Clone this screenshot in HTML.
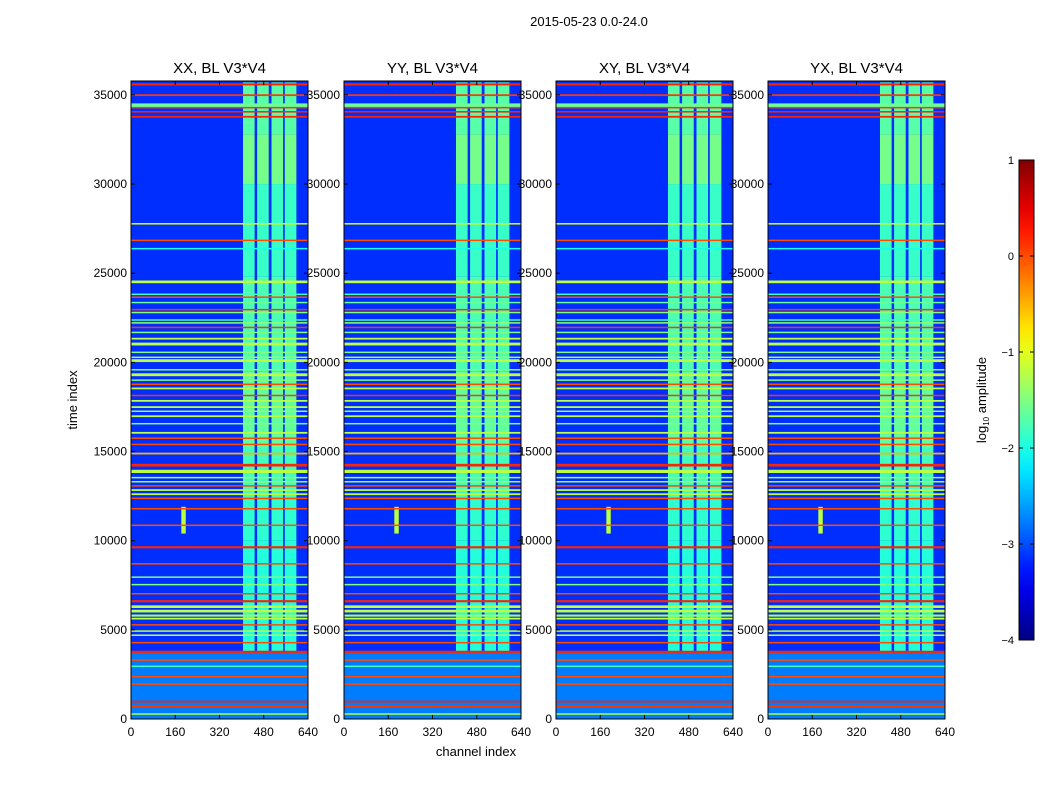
<!DOCTYPE html>
<html><head><meta charset="utf-8"><style>
html,body{margin:0;padding:0;background:#fff;}
svg text{font-family:"Liberation Sans",sans-serif;fill:#000;}
</style></head><body>
<svg id="fig" width="1050" height="800" xmlns="http://www.w3.org/2000/svg">
<text x="589" y="26" font-size="13" text-anchor="middle">2015-05-23 0.0-24.0</text>
<text transform="translate(77,400) rotate(-90)" font-size="13" text-anchor="middle">time index</text>
<text x="476" y="756" font-size="13" text-anchor="middle">channel index</text>
<g id="panels"></g>
<g id="cbar"></g>
<text transform="translate(986,400) rotate(-90)" font-size="13" text-anchor="middle">log<tspan font-size="8" dy="3">10</tspan><tspan dy="-3"> amplitude</tspan></text>
</svg>
<script>
// ---- data ----
const panelTitles = ["XX, BL V3*V4","YY, BL V3*V4","XY, BL V3*V4","YX, BL V3*V4"];
const xTicks = [0,160,320,480,640];
const yTicks = [0,5000,10000,15000,20000,25000,30000,35000];
const cbTicks = [1,0,-1,-2,-3,-4];
const backgroundLevel = -3.15;
// RFI rows: time index, log amplitude, thickness (time units)
const rowTimes = [35590,34985,34400,34285,34052,33774,27772,26842,26377,24516,23818,23656,23354,22958,22795,22377,22214,21958,21679,21330,21028,20563,20283,20097,19585,19306,19004,18771,18538,18143,17841,17492,17259,16980,16561,16049,15747,15398,14886,14235,13886,13537,13305,13072,12840,12607,12375,11793,10863,9630,8699,7955,7536,7025,6606,6300,6050,5800,5629,5280,4931,4698,4280,3768,3303,2954,2373,1954,977,698,279];
const rowLevels = [0.2,0.1,-1.6,0.1,0.2,0.2,-1.0,0.0,-2.0,-1.2,-1.8,0.0,-1.6,0.1,-1.5,-1.8,-1.4,0.1,-1.5,-1.2,-1.2,-1.5,-1.3,-1.2,-1.5,-1.2,-1.5,0.0,-1.2,0.1,-1.2,-1.2,-1.4,-1.2,-1.5,-1.2,0.0,0.0,-0.5,0.2,-1.2,-1.3,-1.3,0.0,-1.2,-1.2,0.0,0.0,0.0,0.2,0.0,-1.5,-1.5,0.0,0.2,-1.2,-1.2,-1.3,-1.2,0.0,-1.2,-1.2,0.0,0.2,0.0,-1.8,0.0,0.0,0.2,0.1,-1.3];
const rowWidths = [120,100,250,80,80,100,40,40,40,150,40,60,60,60,60,60,60,60,60,100,160,60,60,160,60,160,60,60,100,80,100,100,60,100,60,100,60,80,100,150,180,80,80,80,100,100,80,60,60,120,60,60,60,60,120,150,150,120,100,60,80,80,60,120,60,60,60,60,100,80,80];
// bright channel columns (start, end)
const colStart = [405,456,508,556];
const colEnd = [447,498,550,598];
// column segments: time start, time end, level
const segT0 = [3800,10000,12300,15200,19500,24800,30000,32800];
const segT1 = [10000,12300,15200,19500,24800,30000,32800,35700];
const segLevel = [-1.95,-1.9,-1.8,-1.65,-1.75,-1.85,-1.55,-1.7];
const lowRegionLevel = -2.6; // 0..3800 time
// transient blob
const blobChannel = 190, blobT0 = 10400, blobT1 = 11900, blobLevel = -1.2;

// ---- helpers ----
function jet(v){
  const r=Math.min(1,Math.max(0,Math.min(4*v-1.5,-4*v+4.5)));
  const g=Math.min(1,Math.max(0,Math.min(4*v-0.5,-4*v+3.5)));
  const b=Math.min(1,Math.max(0,Math.min(4*v+0.5,-4*v+2.5)));
  return `rgb(${Math.round(r*255)},${Math.round(g*255)},${Math.round(b*255)})`;
}
function col(level){return jet((level+4)/5);}
const NS="http://www.w3.org/2000/svg";
function mk(tag,attrs,parent){const e=document.createElementNS(NS,tag);for(const k in attrs)e.setAttribute(k,attrs[k]);parent.appendChild(e);return e;}
const panelX=[131,344,556,768], pw=177, py0=81, py1=719, tMax=35780, chMax=640;
const panels=document.getElementById('panels');
panelX.forEach((px,pi)=>{
  const g=mk('g',{},panels);
  
  
  const X=c=>px+c/chMax*pw;
  const Y=t=>py1-t/tMax*(py1-py0);
  const cp=mk('clipPath',{id:'cp'+pi},g);
  mk('rect',{x:px,y:py0,width:pw,height:py1-py0},cp);
  const inner=mk('g',{'clip-path':'url(#cp'+pi+')'},g);
  mk('rect',{x:px,y:py0,width:pw,height:py1-py0,fill:col(backgroundLevel)},inner);
  mk('rect',{x:px,y:Y(3800),width:pw,height:Y(0)-Y(3800),fill:col(lowRegionLevel),opacity:0.7},inner);
  for(let s=0;s<segT0.length;s++){
    for(let c=0;c<colStart.length;c++){
      const r=mk('rect',{x:X(colStart[c]),y:Y(segT1[s]),width:X(colEnd[c])-X(colStart[c]),height:Y(segT0[s])-Y(segT1[s]),fill:col(segLevel[s])},inner);
      
      
    }
  }
  const b=mk('rect',{x:X(blobChannel-8),y:Y(blobT1),width:X(16)-X(0),height:Y(blobT0)-Y(blobT1),fill:col(blobLevel)},inner);
  
  
  for(let i=0;i<rowTimes.length;i++){
    const h=Math.max(1.5,(rowWidths[i])/tMax*(py1-py0));
    const r=mk('rect',{x:px,y:Y(rowTimes[i])-h/2,width:pw,height:h,fill:col(rowLevels[i])},inner);
    
    
  }
  mk('rect',{x:px,y:py0,width:pw,height:py1-py0,fill:'none',stroke:'#000','stroke-width':1},g);
  const t=mk('text',{x:px+pw/2,y:73,'font-size':15,'text-anchor':'middle'},g);
  t.textContent=panelTitles[pi];
  
  
  xTicks.forEach(v=>{
    mk('line',{x1:X(v),x2:X(v),y1:py1,y2:py1-4,stroke:'#000'},g);
    mk('line',{x1:X(v),x2:X(v),y1:py0,y2:py0+4,stroke:'#000'},g);
    const l=mk('text',{x:X(v),y:py1+17,'font-size':12,'text-anchor':'middle'},g);
    l.textContent=v;
    
    
  });
  yTicks.forEach(v=>{
    mk('line',{x1:px,x2:px+4,y1:Y(v),y2:Y(v),stroke:'#000'},g);
    mk('line',{x1:px+pw,x2:px+pw-4,y1:Y(v),y2:Y(v),stroke:'#000'},g);
    const l=mk('text',{x:px-4,y:Y(v)+4,'font-size':12,'text-anchor':'end'},g);
    l.textContent=v;
    
    
  });
});
// colorbar
const cb=document.getElementById('cbar');
const cbx=1019,cbw=15,cby0=160,cby1=640;
const defs=mk('defs',{},cb);
const lg=mk('linearGradient',{id:'jetg',x1:0,y1:1,x2:0,y2:0},defs);
for(let i=0;i<=20;i++)mk('stop',{offset:i/20,'stop-color':jet(i/20)},lg);
mk('rect',{x:cbx,y:cby0,width:cbw,height:cby1-cby0,fill:'url(#jetg)',stroke:'#000'},cb);
cbTicks.forEach(v=>{
  const y=cby1-(v+4)/5*(cby1-cby0);
  mk('line',{x1:cbx,x2:cbx+4,y1:y,y2:y,stroke:'#000'},cb);
  mk('line',{x1:cbx+cbw,x2:cbx+cbw-4,y1:y,y2:y,stroke:'#000'},cb);
  const l=mk('text',{x:cbx-5,y:y+4,'font-size':11,'text-anchor':'end'},cb);
  l.textContent=v<0?'\u2212'+(-v):v;
  
  
});
</script>
</body></html>
